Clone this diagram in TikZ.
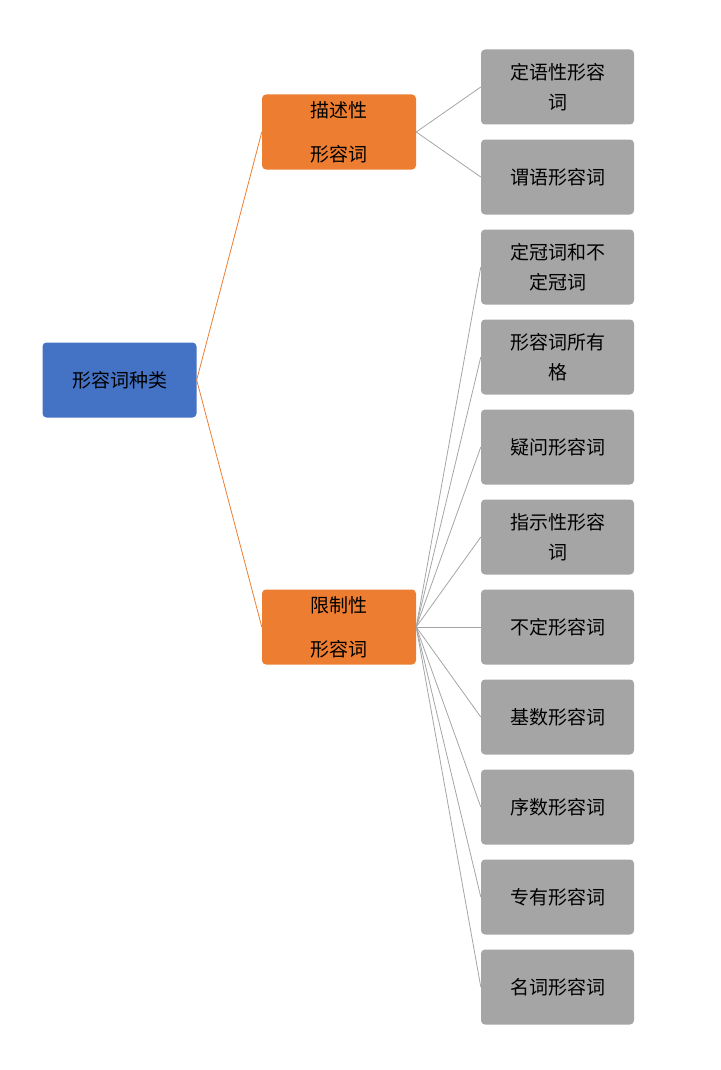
\documentclass[tikz,border=0pt]{standalone}
\usepackage{fontspec}
\setmainfont{Noto Sans CJK SC}
\usetikzlibrary{positioning}
\definecolor{rootblue}{HTML}{4472C4}
\definecolor{midorange}{HTML}{ED7D31}
\definecolor{leafgray}{HTML}{A5A5A5}
\tikzset{
  box/.style={rounded corners=4pt, minimum width=154pt, minimum height=75pt, align=center, font=\fontsize{19}{25}\selectfont, inner sep=2pt},
  rootbox/.style={box, fill=rootblue},
  midbox/.style={box, fill=midorange, font=\fontsize{19}{44}\selectfont},
  leafbox/.style={box, fill=leafgray, minimum width=153pt, font=\fontsize{19}{30}\selectfont},
}
\begin{document}
\begin{tikzpicture}[x=1pt,y=-1pt]
  \useasboundingbox (0,0) rectangle (720,1070);

  \node[rootbox] (root) at (119.5,380) {形容词种类};
  \node[midbox] (desc) at (339,132) {描述性\\形容词};
  \node[midbox] (restr) at (339,627) {限制性\\形容词};

  \node[leafbox] (l1) at (557.5,87) {定语性形容\\词};
  \node[leafbox] (l2) at (557.5,177) {谓语形容词};
  \node[leafbox] (l3) at (557.5,267) {定冠词和不\\定冠词};
  \node[leafbox] (l4) at (557.5,357) {形容词所有\\格};
  \node[leafbox] (l5) at (557.5,447) {疑问形容词};
  \node[leafbox] (l6) at (557.5,537) {指示性形容\\词};
  \node[leafbox] (l7) at (557.5,627) {不定形容词};
  \node[leafbox] (l8) at (557.5,717) {基数形容词};
  \node[leafbox] (l9) at (557.5,807) {序数形容词};
  \node[leafbox] (l10) at (557.5,897) {专有形容词};
  \node[leafbox] (l11) at (557.5,987) {名词形容词};

  % connectors
  \draw[midorange, thick] (root.east) -- (desc.west);
  \draw[midorange, thick] (root.east) -- (restr.west);
  \foreach \n in {l1,l2}
    \draw[leafgray, thick] (desc.east) -- (\n.west);
  \foreach \n in {l3,l4,l5,l6,l7,l8,l9,l10,l11}
    \draw[leafgray, thick] (restr.east) -- (\n.west);
\end{tikzpicture}
\end{document}
